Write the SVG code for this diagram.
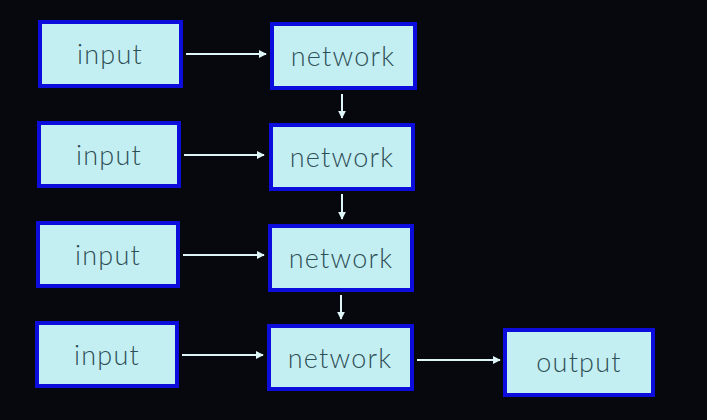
<svg xmlns="http://www.w3.org/2000/svg" width="707" height="420" viewBox="0 0 707 420">
<defs>
<marker id="ah" viewBox="0 0 10 10" refX="9" refY="5" markerWidth="4" markerHeight="4" orient="auto" markerUnits="strokeWidth">
<path d="M0,0 L10,5 L0,10 z" fill="#dff6f8"/>
</marker>
<style>
.box{fill:#c4eff2;stroke:#0c0cdc;stroke-width:4}
.lbl{font-family:Lato,"Noto Sans",sans-serif;font-weight:300;font-size:27px;letter-spacing:1.2px;fill:#2f4f57;text-anchor:middle;dominant-baseline:central}
.con{stroke:#dff6f8;stroke-width:2;fill:none;marker-end:url(#ah)}
</style>
</defs>
<rect width="707" height="420" fill="#06080d"/>
<g id="connectors">
<line class="con" x1="186" y1="54" x2="266" y2="54"/>
<line class="con" x1="184" y1="155" x2="264" y2="155"/>
<line class="con" x1="183" y1="255" x2="264" y2="255"/>
<line class="con" x1="182" y1="355" x2="263" y2="355"/>
<line class="con" x1="342" y1="94" x2="342" y2="118"/>
<line class="con" x1="342" y1="194" x2="342" y2="219"/>
<line class="con" x1="341" y1="295" x2="341" y2="319"/>
<line class="con" x1="417" y1="360" x2="500" y2="360"/>
</g>
<g id="input1"><rect class="box" x="40" y="22" width="141" height="64"/><text class="lbl" x="110" y="53">input</text></g>
<g id="network1"><rect class="box" x="272" y="24" width="143" height="64"/><text class="lbl" x="343" y="55">network</text></g>
<g id="input2"><rect class="box" x="39" y="123" width="140" height="63"/><text class="lbl" x="109" y="154">input</text></g>
<g id="network2"><rect class="box" x="271" y="125" width="142" height="64"/><text class="lbl" x="342" y="156">network</text></g>
<g id="input3"><rect class="box" x="38" y="223" width="140" height="63"/><text class="lbl" x="108" y="254">input</text></g>
<g id="network3"><rect class="box" x="270" y="226" width="142" height="64"/><text class="lbl" x="341" y="257">network</text></g>
<g id="input4"><rect class="box" x="37" y="323" width="140" height="63"/><text class="lbl" x="107" y="354">input</text></g>
<g id="network4"><rect class="box" x="269" y="326" width="143" height="63"/><text class="lbl" x="340" y="357">network</text></g>
<g id="output"><rect class="box" x="505" y="330" width="148" height="65"/><text class="lbl" x="579" y="361">output</text></g>
</svg>
